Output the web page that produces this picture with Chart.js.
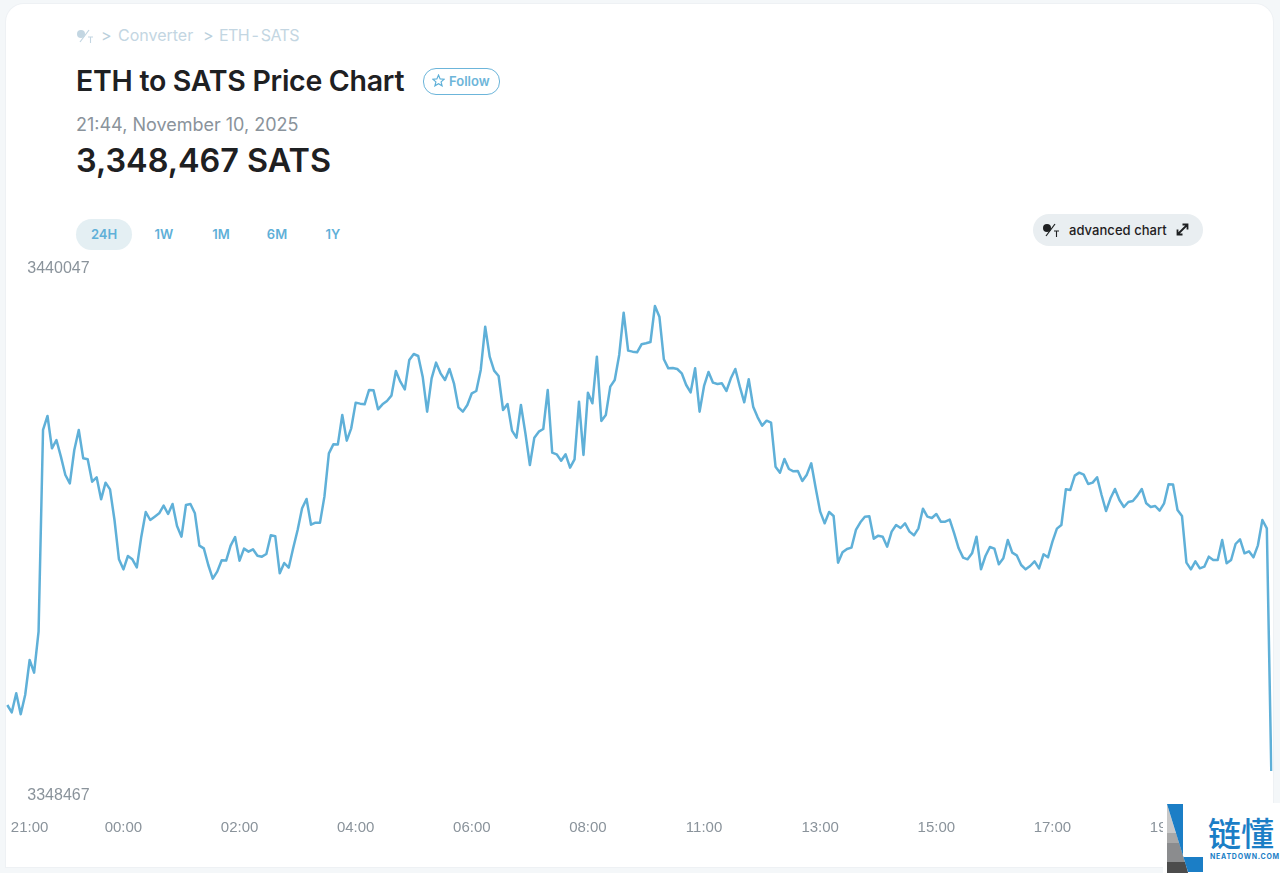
<!DOCTYPE html>
<html><head><meta charset="utf-8">
<script src="https://cdn.jsdelivr.net/npm/chart.js@4"></script>
<style>
html,body{margin:0;padding:0;width:1280px;height:873px;overflow:hidden;background:#f4f7f9;font-family:Inter,sans-serif}
#card{position:absolute;left:6px;top:4px;width:1267px;height:863px;background:#fff;border-radius:18px 18px 0 0;box-shadow:0 0 0 1px #eef1f4}
.t{position:absolute;white-space:nowrap}
canvas{position:absolute;left:0;top:250px}
.p{position:absolute;top:225px;font-size:13px;font-weight:600;color:#5fb0d8;transform:translateX(-50%);line-height:18px}
</style></head><body>
<div id="card"></div>
<svg class="t" style="left:76px;top:28px" width="18" height="16" viewBox="0 0 18 16"><circle cx="5" cy="6" r="4" fill="#c3d6e2"/><path d="M4 14L13 2" stroke="#c3d6e2" stroke-width="1.2"/><path d="M12 9h5M14.5 9v6" stroke="#c3d6e2" stroke-width="1.1" fill="none"/></svg>
<div class="t" style="left:101px;top:25px;font-size:16px;line-height:20px;color:#b9cfdc">&gt;</div>
<div class="t" style="left:118px;top:25px;font-size:16px;line-height:20px;color:#c3d6e2">Converter</div>
<div class="t" style="left:203px;top:25px;font-size:16px;line-height:20px;color:#b9cfdc">&gt;</div>
<div class="t" style="left:219px;top:25px;font-size:16px;line-height:20px;color:#c3d6e2;letter-spacing:-.55px;word-spacing:-1.6px">ETH - SATS</div>
<div class="t" style="left:76px;top:63px;font-size:28.5px;line-height:36px;font-weight:600;color:#1e2022;letter-spacing:-.28px">ETH to SATS Price Chart</div>
<div class="t" style="left:423px;top:68px;width:75px;height:25px;border:1px solid #6cb5da;border-radius:13px"></div>
<svg class="t" style="left:432px;top:74px" width="13" height="13" viewBox="0 0 24 24"><path d="M12 2l3 7 7.5.6-5.7 4.9 1.8 7.4L12 18l-6.6 3.9 1.8-7.4L1.5 9.6 9 9z" fill="none" stroke="#5fb0d8" stroke-width="2.2"/></svg>
<div class="t" style="left:449px;top:73px;font-size:13px;line-height:16px;font-weight:600;color:#6db5d9">Follow</div>
<div class="t" style="left:76px;top:114px;font-size:18px;line-height:22px;color:#8a939b">21:44, November 10, 2025</div>
<div class="t" style="left:76px;top:141px;font-size:32.4px;line-height:40px;font-weight:600;color:#1e2022">3,348,467 SATS</div>
<div class="t" style="left:76px;top:219px;width:56px;height:31px;border-radius:16px;background:#e4eff3"></div>
<div class="p" style="left:104px">24H</div><div class="p" style="left:164px">1W</div><div class="p" style="left:221px">1M</div><div class="p" style="left:277px">6M</div><div class="p" style="left:333px">1Y</div>
<div class="t" style="left:1033px;top:214px;width:170px;height:32px;border-radius:16px;background:#e9eef1"></div>
<svg class="t" style="left:1042px;top:222px" width="18" height="16" viewBox="0 0 18 16"><circle cx="5" cy="6" r="4" fill="#1e2022"/><path d="M4 14L13 2" stroke="#1e2022" stroke-width="1.2"/><path d="M12 9h5M14.5 9v6" stroke="#1e2022" stroke-width="1.1" fill="none"/></svg>
<div class="t" style="left:1069px;top:222px;font-size:13px;line-height:16px;font-weight:500;color:#1e2022;letter-spacing:.05px">advanced chart</div>
<svg class="t" style="left:1176px;top:223px" width="13" height="13" viewBox="0 0 13 13"><path d="M1.5 11.5L11.5 1.5M6.5 1.5h5v5M1.5 6.5v5h5" stroke="#1e2022" stroke-width="1.8" fill="none"/></svg>
<canvas id="c" width="1280" height="600"></canvas>
<div class="t" style="left:1163px;top:803px;width:117px;height:70px;background:#fff"></div>
<svg class="t" style="left:1167px;top:804px" width="37" height="69" viewBox="0 0 37 69">
<polygon points="0,0 0,69 21,69" fill="#c8c8c8"/>
<polygon points="0,29 9,29 21,69 0,69" fill="#a8a8a8"/>
<polygon points="0,39 12,39 21,69 0,69" fill="#8b8c8e"/>
<polygon points="0,58 18,58 21,69 0,69" fill="#4c4c4c"/>
<polygon points="0,0 16,0 16,53 36,53 36,68 21,68" fill="#1b7ec6"/>
</svg>
<div class="t" style="left:1208px;top:808px;font-family:'Noto Sans CJK SC';font-size:33px;line-height:48px;font-weight:500;color:#1b7ec6">链懂</div>
<div class="t" style="left:1210px;top:852px;font-size:7px;line-height:10px;font-weight:700;color:#1b7ec6;letter-spacing:.75px">NEATDOWN.COM</div>
<script>
const priceValues = [
3361466,3360021,3363763,3359628,3363435,3370328,3367834,3375909,3415627,3418384,
3412016,3413657,3410375,3406764,3405123,3411688,3415627,3410047,3409850,3405451,
3406305,3401972,3405254,3403941,3397901,3390155,3388185,3390811,3390155,3388579,
3394619,3399477,3397901,3398558,3399214,3400724,3399083,3401053,3396720,3394619,
3400856,3401053,3399214,3392846,3392321,3389039,3386347,3387726,3389958,3389900,
3392846,3394553,3389892,3392256,3391665,3392124,3390877,3390680,3391205,3394882,
3394685,3387397,3389433,3388514,3392321,3395932,3400199,3402037,3396982,3397376,
3397340,3402497,3411031,3412804,3412750,3418581,3413526,3415955,3421010,3420813,
3420682,3423505,3423439,3419697,3420682,3421339,3422389,3427247,3425146,3423636,
3429413,3430595,3430201,3426131,3419238,3425803,3428888,3426787,3425474,3427641,
3424818,3420091,3419238,3420551,3422848,3423308,3427444,3435978,3430070,3427313,
3426262,3419566,3420748,3415496,3414117,3420551,3414970,3408734,3414117,3415299,
3415824,3423505,3411163,3410835,3409587,3410835,3408209,3409850,3421207,3410703,
3422980,3420879,3430070,3417400,3418581,3424161,3425474,3430398,3438736,3431252,
3431055,3430923,3432499,3432696,3432959,3440047,3437948,3429545,3427772,3427838,
3427641,3426787,3424490,3423045,3427772,3419238,3424293,3427050,3424949,3424687,
3424818,3423308,3425803,3427641,3424161,3421076,3425606,3420222,3418122,3416480,
3417465,3417071,3408405,3407224,3409915,3407946,3407486,3407552,3405583,3406830,
3409062,3404138,3399543,3397245,3399477,3398689,3389498,3391533,3392190,3392453,
3395932,3397442,3398558,3398624,3394225,3394816,3394619,3392649,3395604,3396917,
3396326,3397245,3395604,3394882,3396260,3400134,3398558,3398295,3399083,3397573,
3397573,3397967,3395275,3392321,3390483,3390155,3391336,3394619,3388185,3390811,
3392584,3392256,3389170,3390352,3393962,3391468,3390943,3389039,3388185,3388842,
3389761,3388382,3391140,3390549,3393634,3396195,3396917,3403941,3403810,3406633,
3407224,3406830,3404992,3405254,3406305,3402825,3399674,3402169,3404007,3401840,
3400462,3401447,3401644,3402694,3404007,3401184,3400462,3400659,3399740,3401184,
3404926,3404900,3399871,3398689,3389498,3388185,3389761,3388382,3388710,3390680,
3390023,3390023,3393962,3389367,3390023,3393175,3394094,3391336,3391730,3390549,
3392912,3397901,3396260,3348467];
const xTickIndexes = [5,26,52,78,104,130,156,182,208,234,260];
const xTickLabels = ['21:00','00:00','02:00','04:00','06:00','08:00','11:00','13:00','15:00','17:00','19:00'];
const yTickLabels = ['3348467','3440047'];
const yAxisRange = [3343938,3447726];
const categories = priceValues.map((_, i) => {
  const at = xTickIndexes.indexOf(i);
  return at >= 0 ? xTickLabels[at] : '';
});
new Chart(document.getElementById('c'), {
  type: 'line',
  data: { labels: categories, datasets: [{ data: priceValues, borderColor: '#5fb0d8', borderWidth: 2.5, pointRadius: 0, tension: 0, fill: false, borderJoinStyle: 'round' }] },
  options: {
    responsive: false, animation: false, devicePixelRatio: 1,
    layout: { padding: { left: 7.3, right: 8.7, top: 17, bottom: 0 } },
    plugins: { legend: { display: false }, tooltip: { enabled: false } },
    scales: {
      x: {
        type: 'category', grid: { display: false, drawTicks: false }, border: { display: false },
        afterBuildTicks: s => { s.ticks = xTickIndexes.map(v => ({ value: v })); },
        afterFit: s => { s.height = 56; s.paddingLeft = 0; s.paddingRight = 0; },
        ticks: { autoSkip: false, maxRotation: 0, minRotation: 0, padding: 25, color: '#8a939b', font: { family: '"Liberation Sans"', size: 15 },
          callback: function (v) { return this.getLabelForValue(v); } }
      },
      y: {
        min: yAxisRange[0], max: yAxisRange[1], grid: { display: false, drawTicks: false }, border: { display: false },
        afterBuildTicks: s => { s.ticks = yAxisRange.map(v => ({ value: v })); },
        afterFit: s => { s.width = 0; s.paddingTop = 0; s.paddingBottom = 0; },
        ticks: { mirror: true, padding: 20, labelOffset: 2, color: '#8a939b', font: { family: '"Liberation Sans"', size: 16 },
          callback: v => yTickLabels[yAxisRange.indexOf(v)] }
      }
    }
  }
});
</script>
</body></html>
